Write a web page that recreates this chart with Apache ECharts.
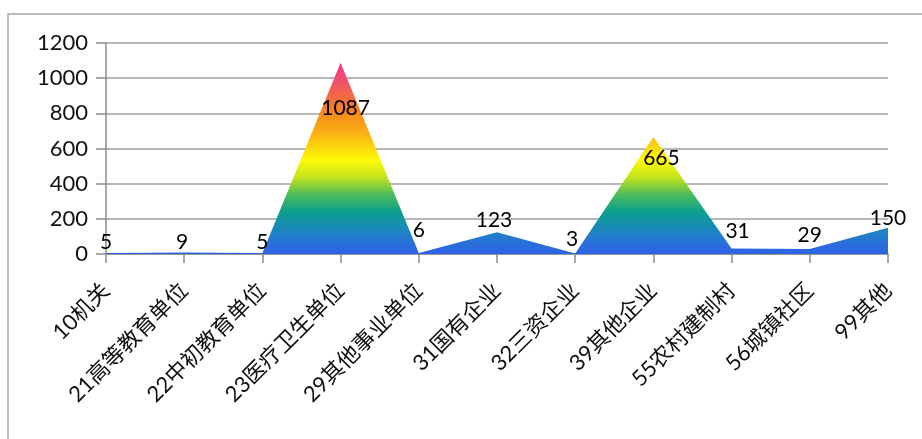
<!DOCTYPE html>
<html>
<head>
<meta charset="utf-8">
<script src="https://cdn.jsdelivr.net/npm/echarts@6/dist/echarts.min.js"></script>
<style>html,body{margin:0;padding:0;background:#fff;}#c{width:922px;height:439px;}</style>
</head>
<body>
<div id="c"></div>
<script>
const categories = ['10机关','21高等教育单位','22中初教育单位','23医疗卫生单位','29其他事业单位','31国有企业','32三资企业','39其他企业','55农村建制村','56城镇社区','99其他'];
const values = [5, 9, 5, 1087, 6, 123, 3, 665, 31, 29, 150];
const yTicks = { min: 0, max: 1200, interval: 200 };
// label placement tweaks (layout only)
const labelShift = [[0,-11],[-2,-10],[0,-11],[5,45],[0,-23],[-3,-12],[-3,-14],[8,21],[6,-17],[0,-14],[0,-9]];

const chart = echarts.init(document.getElementById('c'));
chart.setOption({
  animation: false,
  backgroundColor: '#fff',
  graphic: [{
    type: 'rect', shape: { x: 8, y: 14, width: 940, height: 460 },
    style: { fill: 'none', stroke: '#a6a6a6', lineWidth: 1.5 }, silent: true, z: -1
  }],
  grid: { left: 106, right: 34, top: 43, bottom: 185 },
  xAxis: {
    type: 'category', data: categories, boundaryGap: false,
    axisLine: { lineStyle: { color: '#8c8c8c', width: 1.5 } },
    axisTick: { show: true, length: 9, lineStyle: { color: '#8c8c8c', width: 1.5 } },
    axisLabel: { interval: 0, rotate: 45, margin: 33, fontSize: 22, color: '#111',
      fontFamily: 'Lato, "Noto Sans CJK SC", sans-serif' }
  },
  yAxis: {
    type: 'value', min: yTicks.min, max: yTicks.max, interval: yTicks.interval,
    axisLine: { show: true, lineStyle: { color: '#8c8c8c', width: 1.5 } },
    axisTick: { show: true, length: 10, lineStyle: { color: '#8c8c8c', width: 1.5 } },
    splitLine: { lineStyle: { color: '#a0a0a0', width: 1.5 } },
    axisLabel: { margin: 18, fontSize: 22, color: '#111', fontFamily: 'Lato, sans-serif',
      formatter: v => String(v) }
  },
  series: [{
    type: 'line',
    data: values.map((v, i) => ({ value: v, label: { offset: labelShift[i] } })),
    symbol: 'circle', symbolSize: 1,
    itemStyle: { color: 'rgba(0,0,0,0)' },
    lineStyle: { width: 0, opacity: 0 },
    areaStyle: {
      opacity: 1,
      color: new echarts.graphic.LinearGradient(0, 0, 0, 1, [
        { offset: 0.0, color: '#ec3f80' },
        { offset: 0.1, color: '#f0506a' },
        { offset: 0.25, color: '#f5841f' },
        { offset: 0.38, color: '#fbb712' },
        { offset: 0.51, color: '#fdfb06' },
        { offset: 0.6, color: '#c2e31c' },
        { offset: 0.69, color: '#4cbb5c' },
        { offset: 0.78, color: '#0ba08e' },
        { offset: 0.87, color: '#1a88bc' },
        { offset: 0.94, color: '#2870d8' },
        { offset: 1.0, color: '#2e62e6' }
      ])
    },
    label: { show: true, position: 'inside', fontSize: 21, color: '#000',
      fontFamily: 'Lato, sans-serif' }
  }]
});
</script>
</body>
</html>
